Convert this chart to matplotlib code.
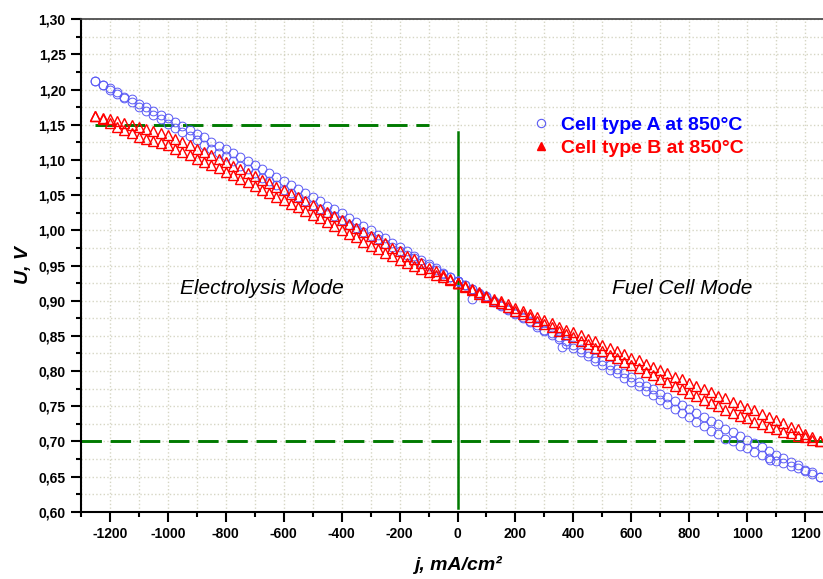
import matplotlib
matplotlib.use('Agg')
import matplotlib.pyplot as plt
from matplotlib.lines import Line2D
from matplotlib.ticker import MultipleLocator, FuncFormatter
import numpy as np

plt.rcParams['font.family'] = ['Liberation Sans', 'DejaVu Sans']

# current density, mA/cm2 (electrolysis side and fuel cell side)
j_el = [-1250, -1225, -1200, -1175, -1150, -1125, -1100, -1075, -1050, -1025,
        -1000, -975, -950, -925, -900, -875, -850, -825, -800, -775,
        -750, -725, -700, -675, -650, -625, -600, -575, -550, -525,
        -500, -475, -450, -425, -400, -375, -350, -325, -300, -275,
        -250, -225, -200, -175, -150, -125, -100, -75, -50, -25, 0]
j_fc = [0, 25, 50, 75, 100, 125, 150, 175, 200, 225,
        250, 275, 300, 325, 350, 375, 400, 425, 450, 475,
        500, 525, 550, 575, 600, 625, 650, 675, 700, 725,
        750, 775, 800, 825, 850, 875, 900, 925, 950, 975,
        1000, 1025, 1050, 1075, 1100, 1125, 1150, 1175, 1200, 1225, 1250]

# cell voltage, mV - cell type A (two sweep directions)
a_el_up = [1212, 1206, 1202, 1196, 1190, 1186, 1180, 1175, 1170, 1164,
           1159, 1154, 1148, 1142, 1137, 1132, 1126, 1120, 1115, 1110,
           1104, 1099, 1093, 1087, 1082, 1076, 1070, 1065, 1059, 1053,
           1048, 1042, 1035, 1030, 1024, 1018, 1012, 1006, 1000, 994,
           989, 982, 976, 971, 964, 958, 952, 946, 940, 934, 928]
a_el_lo = [1212, 1206, 1200, 1194, 1188, 1182, 1176, 1169, 1164, 1158,
           1151, 1146, 1140, 1134, 1128, 1122, 1116, 1110, 1105, 1098,
           1092, 1087, 1081, 1075, 1070, 1064, 1058, 1053, 1047, 1041,
           1036, 1030, 1025, 1020, 1014, 1008, 1003, 998, 992, 987,
           981, 976, 970, 965, 960, 954, 950, 944, 938, 933, 928]
a_fc_up = [928, 922, 917, 911, 906, 899, 894, 888, 883, 877,
           871, 865, 859, 854, 848, 843, 837, 831, 825, 819,
           814, 808, 803, 797, 792, 785, 779, 774, 768, 763,
           757, 752, 746, 741, 735, 729, 724, 718, 713, 707,
           702, 697, 692, 686, 681, 676, 670, 666, 660, 656, 650]
a_fc_lo = [928, 922, 916, 910, 905, 898, 893, 887, 881, 875,
           869, 863, 857, 851, 845, 839, 833, 827, 821, 814,
           809, 802, 797, 790, 785, 778, 771, 766, 759, 753,
           746, 740, 734, 728, 722, 715, 710, 704, 700, 694,
           690, 685, 681, 677, 672, 669, 665, 662, 658, 654, 650]
a_out_j = [49, 362, 1079]
a_out_u = [902, 834, 673]

# cell voltage, mV - cell type B
b_el_up = [1163, 1160, 1158, 1155, 1153, 1150, 1147, 1144, 1141, 1138,
           1135, 1130, 1125, 1121, 1116, 1111, 1107, 1102, 1097, 1092,
           1087, 1082, 1077, 1072, 1067, 1062, 1057, 1052, 1047, 1041,
           1036, 1031, 1026, 1020, 1015, 1009, 1004, 998, 992, 987,
           982, 975, 970, 964, 959, 953, 947, 942, 937, 931, 925]
b_el_lo = [1163, 1158, 1152, 1147, 1143, 1138, 1133, 1130, 1127, 1124,
           1121, 1116, 1111, 1107, 1102, 1097, 1093, 1088, 1083, 1078,
           1073, 1068, 1063, 1058, 1053, 1048, 1043, 1038, 1033, 1027,
           1022, 1017, 1012, 1006, 1001, 995, 990, 984, 978, 973,
           968, 963, 958, 954, 949, 945, 941, 936, 933, 929, 925]
b_fc_up = [925, 921, 916, 912, 907, 903, 899, 895, 890, 886,
           881, 877, 872, 868, 863, 859, 855, 851, 846, 842,
           837, 833, 828, 824, 819, 815, 810, 806, 801, 797,
           792, 788, 783, 779, 774, 770, 765, 761, 756, 752,
           747, 744, 739, 735, 730, 726, 721, 717, 711, 706, 700]
b_fc_lo = [925, 920, 915, 910, 905, 900, 896, 891, 886, 881,
           877, 871, 867, 862, 857, 852, 848, 842, 838, 833,
           828, 823, 819, 813, 809, 804, 799, 794, 789, 784,
           779, 774, 769, 764, 759, 754, 750, 745, 741, 736,
           733, 728, 725, 721, 718, 714, 712, 708, 706, 702, 700]

labels = ['Cell type A at 850°C', 'Cell type B at 850°C']
col_a = '#5a5af5'
col_b = '#ff0000'
green = '#007a00'

fig = plt.figure(figsize=(8.23, 5.79), dpi=100)
ax = fig.add_axes([0.0984, 0.1162, 0.915, 0.8505])

mv = lambda v: np.array(v) / 1000.0
style_a = dict(ls='none', marker='o', ms=6.3, mfc='none', mec=col_a, mew=0.7)
style_b = dict(ls='none', marker='^', ms=6.5, mfc='none', mec=col_b, mew=1.0)

for jj, uu in [(j_el, a_el_up), (j_el, a_el_lo), (j_fc, a_fc_up), (j_fc, a_fc_lo),
               (a_out_j, a_out_u)]:
    ax.plot(jj, mv(uu), **style_a, zorder=3)
for jj, uu in [(j_el, b_el_up), (j_el, b_el_lo), (j_fc, b_fc_up), (j_fc, b_fc_lo)]:
    ax.plot(jj, mv(uu), **style_b, zorder=3)

# mode guides
ax.plot([-1250, -100], [1.15, 1.15], color=green, lw=2.1, ls=(0, (7, 3)), zorder=2)
ax.plot([-1300, 1300], [0.70, 0.70], color=green, lw=2.1, ls=(0, (7, 3)), zorder=2)
ax.plot([0, 0], [0.605, 1.14], color=green, lw=1.8, zorder=2)

ax.text(-675, 0.917, 'Electrolysis Mode', fontsize=15, style='italic',
        ha='center', va='center')
ax.text(776, 0.917, 'Fuel Cell Mode', fontsize=15, style='italic',
        ha='center', va='center')

ax.set_xlim(-1300, 1300)
ax.set_ylim(0.6, 1.3)
ax.xaxis.set_major_locator(MultipleLocator(200))
ax.xaxis.set_minor_locator(MultipleLocator(100))
ax.yaxis.set_major_locator(MultipleLocator(0.05))
ax.yaxis.set_minor_locator(MultipleLocator(0.025))
ax.xaxis.set_major_formatter(FuncFormatter(lambda v, p: '%d' % round(v)))
ax.yaxis.set_major_formatter(FuncFormatter(lambda v, p: ('%.2f' % v).replace('.', ',')))

ax.tick_params(which='major', direction='out', length=7, width=1.5,
               labelsize=10, pad=4)
ax.tick_params(which='minor', direction='out', length=3.5, width=1.5)
for lab in ax.get_xticklabels() + ax.get_yticklabels():
    lab.set_fontweight('bold')

ax.spines['right'].set_visible(False)
ax.spines['top'].set_color('#404040')
ax.spines['top'].set_linewidth(1.2)
ax.spines['left'].set_linewidth(1.5)
ax.spines['bottom'].set_linewidth(1.5)

ax.grid(True, which='both', color='#d6d6c4', ls=':', lw=1.0, zorder=0)
ax.set_axisbelow(True)

ax.set_xlabel('j, mA/cm²', fontsize=14, fontweight='bold', style='italic', labelpad=11)
ax.set_ylabel('U, V', fontsize=14, fontweight='bold', style='italic', labelpad=5)

handles = [Line2D([], [], ls='none', marker='o', ms=6, mfc='none', mec=col_a, mew=0.8),
           Line2D([], [], ls='none', marker='^', ms=6, mfc=col_b, mec=col_b)]
ax.legend(handles, labels, loc='upper left', bbox_to_anchor=(0.624, 0.83),
          bbox_transform=fig.transFigure, frameon=False, handlelength=1.0,
          handletextpad=0.55, labelspacing=0.3,
          prop={'size': 14, 'weight': 'bold'}, labelcolor=['#0000ff', '#ff0000'])

fig.savefig('out.png', dpi=100)
